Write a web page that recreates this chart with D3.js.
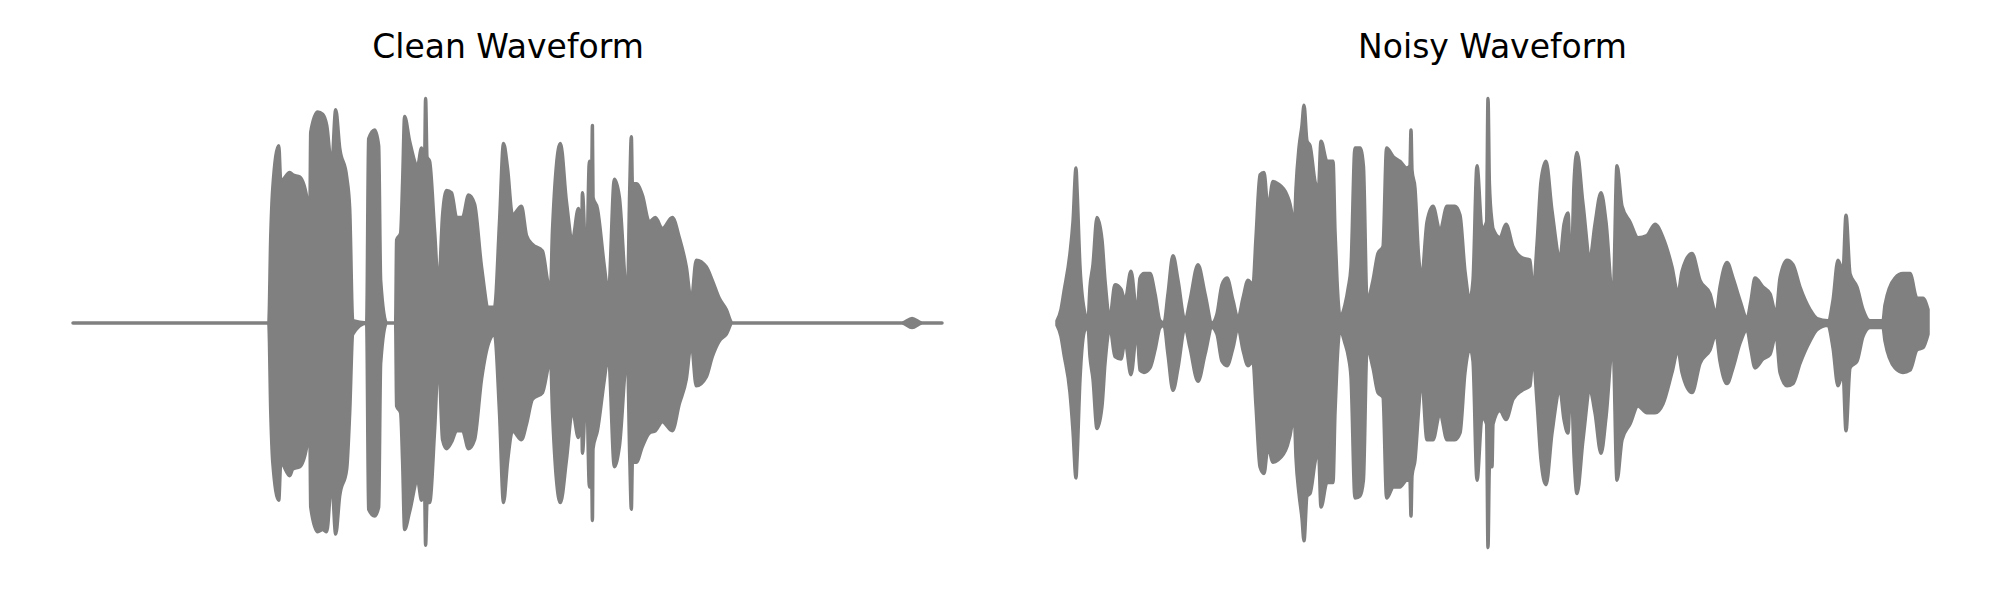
<!DOCTYPE html>
<html>
<head>
<meta charset="utf-8">
<script src="https://cdn.jsdelivr.net/npm/d3@7/dist/d3.min.js"></script>
<style>
  html, body { margin: 0; padding: 0; background: #ffffff; }
  svg { display: block; }
</style>
</head>
<body>
<svg id="chart" width="2000" height="600"></svg>
<script>
// Panel titles
const titles = ["Clean Waveform", "Noisy Waveform"];

// Amplitude envelopes: [time (s), upper peak, lower peak]
const cleanEnvelope = [
  [0,0,0],[0.98,0,0],[0.99,0.39,-0.40],[1.00,0.60,-0.62],[1.03,0.79,-0.79],[1.04,0.63,-0.62],
  [1.085,0.67,-0.68],[1.10,0.66,-0.65],[1.135,0.65,-0.64],[1.17,0.56,-0.55],[1.185,0.41,-0.40],
  [1.19,0.85,-0.82],[1.225,0.94,-0.93],[1.25,0.93,-0.92],[1.27,0.88,-0.93],[1.295,0.70,-0.70],
  [1.315,0.95,-0.94],[1.335,0.78,-0.77],[1.37,0.65,-0.65],[1.385,0.51,-0.40],[1.40,0.01,-0.05],
  [1.47,0,0],[1.48,0.82,-0.83],[1.51,0.86,-0.86],[1.53,0.79,-0.82],[1.54,0.19,-0.18],[1.57,0,0],
  [1.615,0,0],[1.62,0.37,-0.37],[1.64,0.40,-0.40],[1.65,0.63,-0.62],[1.66,0.92,-0.92],
  [1.685,0.81,-0.84],[1.725,0.70,-0.70],[1.745,0.78,-0.79],[1.76,0.72,-0.74],[1.765,1.00,-0.99],
  [1.772,0.74,-0.80],[1.785,0.72,-0.80],[1.81,0.41,-0.48],[1.83,0.16,-0.15],[1.85,0.48,-0.52],
  [1.87,0.59,-0.56],[1.895,0.58,-0.53],[1.92,0.47,-0.48],[1.95,0.47,-0.48],[1.98,0.57,-0.56],
  [2.01,0.53,-0.52],[2.045,0.25,-0.25],[2.08,0.07,-0.09],[2.11,0.07,-0.05],[2.135,0.45,-0.40],
  [2.155,0.80,-0.80],[2.175,0.69,-0.62],[2.20,0.48,-0.48],[2.245,0.52,-0.52],[2.27,0.39,-0.45],
  [2.30,0.35,-0.34],[2.35,0.32,-0.31],[2.375,0.19,-0.21],[2.39,0.13,-0.14],[2.40,0.41,-0.39],
  [2.44,0.80,-0.80],[2.47,0.54,-0.61],[2.50,0.37,-0.39],[2.53,0.51,-0.51],[2.545,0.26,-0.25],
  [2.55,0.58,-0.58],[2.57,0.22,-0.25],[2.585,0.72,-0.73],[2.597,0.70,-0.70],[2.60,0.88,-0.88],
  [2.603,0.56,-0.56],[2.625,0.51,-0.48],[2.66,0.25,-0.25],[2.68,0.13,-0.14],[2.71,0.64,-0.64],
  [2.735,0.56,-0.55],[2.775,0.11,-0.14],[2.787,0.60,-0.60],[2.795,0.83,-0.83],[2.80,0.62,-0.62],
  [2.82,0.62,-0.62],[2.85,0.57,-0.55],[2.885,0.45,-0.49],[2.915,0.47,-0.48],[2.95,0.42,-0.44],
  [3.00,0.47,-0.48],[3.035,0.38,-0.36],[3.07,0.25,-0.25],[3.095,0.10,-0.09],[3.12,0.28,-0.28],
  [3.17,0.25,-0.24],[3.20,0.19,-0.15],[3.235,0.11,-0.08],[3.27,0.06,-0.05],[3.30,0,0],
  [4.15,0,0],[4.20,0.02,-0.02],[4.25,0,0],[4.35,0,0]
];

const noisyEnvelope = [
  [0.00,0.01,-0.01],[0.02,0.06,-0.06],[0.035,0.14,-0.14],[0.065,0.31,-0.31],[0.08,0.45,-0.48],
  [0.095,0.69,-0.69],[0.10,0.60,-0.61],[0.115,0.25,-0.25],[0.14,0.04,-0.03],[0.155,0.01,-0.02],
  [0.165,0.16,-0.15],[0.18,0.26,-0.25],[0.20,0.47,-0.47],[0.225,0.37,-0.37],[0.24,0.19,-0.18],
  [0.265,0.03,-0.02],[0.29,0.17,-0.15],[0.32,0.15,-0.16],[0.34,0.10,-0.08],[0.37,0.23,-0.23],
  [0.40,0.04,-0.03],[0.415,0.20,-0.21],[0.435,0.22,-0.22],[0.465,0.22,-0.20],[0.49,0.13,-0.12],
  [0.515,0.01,-0.02],[0.535,0.00,-0.01],[0.555,0.13,-0.14],[0.58,0.30,-0.30],[0.605,0.19,-0.20],
  [0.64,0.01,-0.02],[0.665,0.10,-0.11],[0.705,0.26,-0.26],[0.74,0.13,-0.14],[0.775,0.00,-0.02],
  [0.80,0.04,-0.05],[0.825,0.17,-0.17],[0.85,0.20,-0.19],[0.88,0.10,-0.11],[0.905,0.02,-0.02],
  [0.93,0.11,-0.12],[0.955,0.19,-0.19],[0.98,0.17,-0.17],[0.995,0.38,-0.37],[1.015,0.66,-0.64],
  [1.035,0.67,-0.67],[1.055,0.51,-0.55],[1.08,0.63,-0.62],[1.105,0.62,-0.61],[1.15,0.57,-0.55],
  [1.175,0.48,-0.45],[1.185,0.38,-0.37],[1.195,0.60,-0.60],[1.21,0.78,-0.76],[1.225,0.88,-0.87],
  [1.235,0.97,-0.97],[1.25,0.81,-0.77],[1.265,0.79,-0.76],[1.29,0.63,-0.62],[1.307,0.59,-0.55],
  [1.32,0.81,-0.82],[1.35,0.72,-0.71],[1.38,0.72,-0.71],[1.39,0.41,-0.40],[1.40,0.19,-0.18],
  [1.415,0.03,-0.03],[1.44,0.08,-0.09],[1.457,0.16,-0.15],[1.47,0.25,-0.24],[1.49,0.78,-0.78],
  [1.515,0.78,-0.77],[1.532,0.70,-0.70],[1.55,0.10,-0.11],[1.58,0.19,-0.20],[1.605,0.31,-0.31],
  [1.63,0.34,-0.33],[1.648,0.78,-0.78],[1.682,0.74,-0.73],[1.715,0.72,-0.73],[1.748,0.69,-0.70],
  [1.765,0.70,-0.70],[1.77,0.86,-0.86],[1.775,0.68,-0.68],[1.79,0.60,-0.61],[1.807,0.31,-0.40],
  [1.823,0.20,-0.24],[1.85,0.45,-0.52],[1.88,0.52,-0.52],[1.915,0.41,-0.40],[1.95,0.52,-0.52],
  [1.99,0.52,-0.52],[2.015,0.48,-0.49],[2.04,0.23,-0.22],[2.065,0.11,-0.11],[2.08,0.19,-0.17],
  [2.10,0.70,-0.70],[2.125,0.42,-0.42],[2.148,0.45,-0.45],[2.155,1.00,-1.00],[2.162,0.62,-0.64],
  [2.175,0.45,-0.64],[2.18,0.42,-0.45],[2.215,0.38,-0.39],[2.245,0.44,-0.43],[2.28,0.34,-0.34],
  [2.325,0.29,-0.30],[2.365,0.28,-0.28],[2.38,0.13,-0.14],[2.40,0.35,-0.35],[2.42,0.63,-0.61],
  [2.445,0.72,-0.72],[2.475,0.50,-0.49],[2.515,0.29,-0.30],[2.535,0.44,-0.43],[2.555,0.49,-0.49],
  [2.57,0.19,-0.22],[2.585,0.62,-0.59],[2.60,0.76,-0.76],[2.63,0.53,-0.52],[2.665,0.29,-0.30],
  [2.69,0.44,-0.40],[2.72,0.58,-0.58],[2.745,0.45,-0.42],[2.78,0.10,-0.09],[2.80,0.70,-0.70],
  [2.825,0.52,-0.52],[2.865,0.45,-0.45],[2.905,0.38,-0.37],[2.95,0.39,-0.40],[2.99,0.44,-0.40],
  [3.03,0.38,-0.36],[3.075,0.25,-0.22],[3.105,0.13,-0.12],[3.125,0.23,-0.22],[3.175,0.31,-0.31],
  [3.215,0.19,-0.18],[3.265,0.13,-0.12],[3.295,0.04,-0.05],[3.315,0.16,-0.17],[3.35,0.27,-0.27],
  [3.38,0.20,-0.20],[3.415,0.10,-0.09],[3.45,0.02,-0.03],[3.47,0.10,-0.12],[3.49,0.20,-0.20],
  [3.53,0.16,-0.16],[3.565,0.13,-0.14],[3.595,0.04,-0.05],[3.615,0.20,-0.22],[3.65,0.28,-0.28],
  [3.68,0.26,-0.27],[3.715,0.16,-0.18],[3.765,0.06,-0.08],[3.80,0.02,-0.03],[3.855,0.01,-0.01],
  [3.88,0.10,-0.11],[3.905,0.28,-0.28],[3.93,0.23,-0.22],[3.945,0.48,-0.48],[3.965,0.22,-0.20],
  [4.00,0.16,-0.17],[4.03,0.06,-0.06],[4.065,0.01,-0.02],[4.13,0.01,-0.02],[4.14,0.08,-0.08],
  [4.19,0.20,-0.20],[4.23,0.22,-0.22],[4.265,0.22,-0.21],[4.30,0.11,-0.12],[4.33,0.11,-0.11],
  [4.355,0.06,-0.05]
];

const duration = [0, 4.355];
const amplitude = [-1, 1];

const svg = d3.select("#chart");
const color = "#808080";

const panels = [
  { title: titles[0], data: cleanEnvelope, x0: 73, x1: 943 },
  { title: titles[1], data: noisyEnvelope, x0: 1057, x1: 1928 }
];

const y = d3.scaleLinear().domain(amplitude).range([547.5, 98.5]);

panels.forEach(p => {
  const x = d3.scaleLinear().domain(duration).range([p.x0, p.x1]);
  const g = svg.append("g");
  const area = d3.area()
    .curve(d3.curveMonotoneX)
    .x(d => x(d[0]))
    .y0(d => y(d[2]))
    .y1(d => y(d[1]));
  g.append("path")
    .datum(p.data)
    .attr("d", area)
    .attr("fill", color)
    .attr("stroke", color)
    .attr("stroke-width", 3.5)
    .attr("stroke-linejoin", "round");
  svg.append("text")
    .attr("x", (p.x0 + p.x1) / 2)
    .attr("y", 58)
    .attr("text-anchor", "middle")
    .attr("font-family", "DejaVu Sans")
    .attr("font-size", 33)
    .attr("fill", "#000")
    .text(p.title);
});
</script>
</body>
</html>
